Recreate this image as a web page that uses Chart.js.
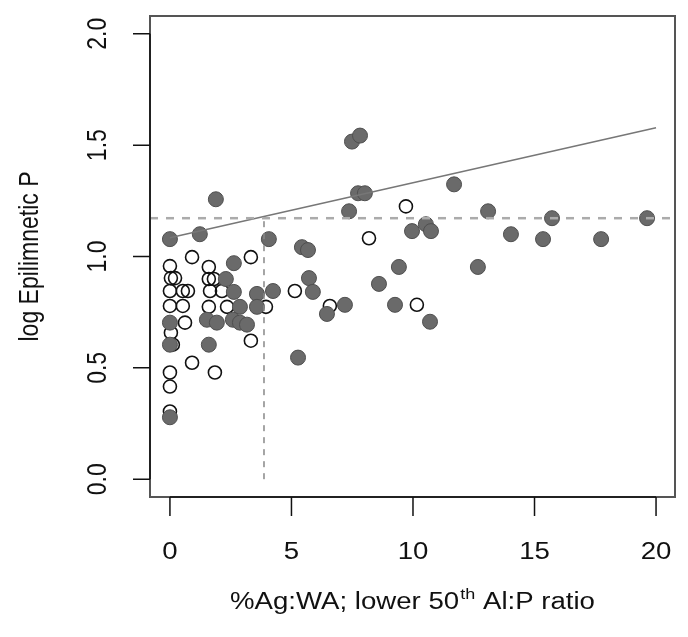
<!DOCTYPE html>
<html>
<head>
<meta charset="utf-8">
<script src="https://cdn.jsdelivr.net/npm/chart.js@4/dist/chart.umd.min.js"></script>
<style>
  html, body { margin: 0; padding: 0; background: #fff; }
  #wrap { width: 688px; height: 637px; }
</style>
</head>
<body>
<div id="wrap"><canvas id="plot" width="688" height="637"></canvas></div>
<script>
// Data
const filledX = [7.49, 7.82, 7.74, 8.02, 7.37, 1.89, 0, 1.23, 4.07, 5.43,
  5.68, 9.96, 10.53, 10.74, 11.69, 13.09, 15.72, 19.63, 14.03, 15.35,
  17.74, 12.67, 9.42, 8.60, 9.26, 10.70, 7.20, 6.46, 5.72, 5.88,
  4.24, 5.27, 2.63, 2.30, 2.63, 3.58, 3.58, 2.88, 1.52, 1.93,
  2.59, 2.88, 3.17, 0, 0, 1.60, 0];
const filledY = [1.516, 1.543, 1.284, 1.284, 1.203, 1.257, 1.078, 1.100, 1.078, 1.042,
  1.029, 1.114, 1.145, 1.114, 1.324, 1.203, 1.172, 1.172, 1.100, 1.078,
  1.078, 0.953, 0.953, 0.877, 0.783, 0.707, 0.783, 0.742, 0.903, 0.841,
  0.845, 0.546, 0.970, 0.899, 0.841, 0.832, 0.774, 0.774, 0.716, 0.703,
  0.716, 0.703, 0.694, 0.703, 0.604, 0.604, 0.278];

const openX = [8.19, 9.71, 10.16, 6.58, 5.14, 0.91, 3.33, 0, 0.04, 0.21,
  0, 0.53, 0.74, 0, 0.53, 0.62, 0.04, 0.12, 0.91, 0,
  0, 1.85, 3.33, 0, 1.60, 1.60, 1.81, 1.65, 2.14, 1.60,
  2.35, 3.95];
const openY = [1.082, 1.225, 0.783, 0.778, 0.845, 0.997, 0.997, 0.957, 0.903, 0.903,
  0.845, 0.845, 0.845, 0.778, 0.778, 0.703, 0.658, 0.604, 0.523, 0.479,
  0.416, 0.479, 0.622, 0.304, 0.953, 0.899, 0.899, 0.845, 0.845, 0.774,
  0.774, 0.774];

const fitX = [0, 20];
const fitY = [1.084, 1.578];
const thresholdY = 1.172;   // horizontal dashed line
const thresholdX = 3.87;    // vertical dashed line

const xTicks = [0, 5, 10, 15, 20];
const xTickLabels = ['0', '5', '10', '15', '20'];
const yTicks = [0, 0.5, 1, 1.5, 2];
const yTickLabels = ['0.0', '0.5', '1.0', '1.5', '2.0'];

const xMin = -0.82, xMax = 20.78;
const yMin = -0.08, yMax = 2.08;

const FONT = '"Liberation Sans", Arial, sans-serif';
const STRETCH = 1.2; // the original type is set wide

const pts = (xs, ys) => xs.map((x, i) => ({ x, y: ys[i] }));

// Text in the R style: drawn with a horizontal stretch
function stretchedText(ctx, text, x, y, rotate) {
  ctx.save();
  ctx.translate(x, y);
  ctx.scale(STRETCH, 1);
  if (rotate) ctx.rotate(-Math.PI / 2);
  ctx.fillText(text, 0, 0);
  ctx.restore();
}

const rAxes = {
  id: 'rAxes',
  afterDraw(chart) {
    const { ctx, chartArea: a, scales } = chart;
    const xs = scales.x, ys = scales.y;
    ctx.save();

    // box
    ctx.strokeStyle = '#555';
    ctx.lineWidth = 2;
    ctx.strokeRect(a.left, a.top, a.right - a.left, a.bottom - a.top);

    ctx.strokeStyle = '#111';
    ctx.lineWidth = 1.5;
    // y axis
    ctx.beginPath();
    ctx.moveTo(a.left, ys.getPixelForValue(yTicks[0]));
    ctx.lineTo(a.left, ys.getPixelForValue(yTicks[yTicks.length - 1]));
    yTicks.forEach(v => {
      const py = ys.getPixelForValue(v);
      ctx.moveTo(a.left, py);
      ctx.lineTo(a.left - 17, py);
    });
    // x axis
    ctx.moveTo(xs.getPixelForValue(xTicks[0]), a.bottom);
    ctx.lineTo(xs.getPixelForValue(xTicks[xTicks.length - 1]), a.bottom);
    xTicks.forEach(v => {
      const px = xs.getPixelForValue(v);
      ctx.moveTo(px, a.bottom);
      ctx.lineTo(px, a.bottom + 19);
    });
    ctx.stroke();

    ctx.fillStyle = '#111';
    ctx.font = '23px ' + FONT;
    ctx.textAlign = 'center';
    ctx.textBaseline = 'middle';
    xTicks.forEach((v, i) => {
      stretchedText(ctx, xTickLabels[i], xs.getPixelForValue(v), a.bottom + 56, false);
    });
    yTicks.forEach((v, i) => {
      stretchedText(ctx, yTickLabels[i], a.left - 52, ys.getPixelForValue(v), true);
    });

    // y title
    stretchedText(ctx, 'log Epilimnetic P', 30, (a.top + a.bottom) / 2, true);

    // x title with superscript "th"
    const p1 = '%Ag:WA; lower 50', sup = 'th', p3 = ' Al:P ratio';
    ctx.font = '23px ' + FONT;
    const w1 = ctx.measureText(p1).width, w3 = ctx.measureText(p3).width;
    ctx.font = '15px ' + FONT;
    const w2 = ctx.measureText(sup).width + 1;
    const total = w1 + w2 + w3;
    const cx = (a.left + a.right) / 2, ty = a.bottom + 112;
    ctx.save();
    ctx.translate(cx, ty);
    ctx.scale(STRETCH, 1);
    ctx.textAlign = 'left';
    ctx.textBaseline = 'alphabetic';
    let x0 = -total / 2;
    ctx.font = '23px ' + FONT;
    ctx.fillText(p1, x0, 0);
    ctx.font = '15px ' + FONT;
    ctx.fillText(sup, x0 + w1 + 1, -10);
    ctx.font = '23px ' + FONT;
    ctx.fillText(p3, x0 + w1 + w2, 0);
    ctx.restore();

    ctx.restore();
  }
};

new Chart(document.getElementById('plot'), {
  type: 'scatter',
  data: {
    datasets: [
      {
        label: 'threshold P',
        type: 'line',
        data: [{ x: xMin, y: thresholdY }, { x: xMax, y: thresholdY }],
        borderColor: '#ababab',
        borderWidth: 2.5,
        borderDash: [8, 8],
        pointRadius: 0,
        fill: false
      },
      {
        label: 'threshold Ag',
        type: 'line',
        data: [{ x: thresholdX, y: 0 }, { x: thresholdX, y: thresholdY }],
        borderColor: '#888',
        borderWidth: 1.5,
        borderDash: [6, 6],
        pointRadius: 0,
        fill: false
      },
      {
        label: 'fit',
        type: 'line',
        data: pts(fitX, fitY),
        borderColor: '#777',
        borderWidth: 1.5,
        pointRadius: 0,
        fill: false
      },
      {
        label: 'upper',
        data: pts(filledX, filledY),
        backgroundColor: '#6a6a6a',
        borderColor: '#4f4f4f',
        borderWidth: 1,
        pointRadius: 7.5
      },
      {
        label: 'lower',
        data: pts(openX, openY),
        backgroundColor: 'rgba(0,0,0,0)',
        borderColor: '#111',
        borderWidth: 1.6,
        pointRadius: 6.5
      }
    ]
  },
  options: {
    responsive: false,
    animation: false,
    layout: { padding: { left: 150, right: 13, top: 16, bottom: 140 } },
    scales: {
      x: { type: 'linear', min: xMin, max: xMax, display: false },
      y: { type: 'linear', min: yMin, max: yMax, display: false }
    },
    plugins: {
      legend: { display: false },
      tooltip: { enabled: false }
    }
  },
  plugins: [rAxes]
});
</script>
</body>
</html>
